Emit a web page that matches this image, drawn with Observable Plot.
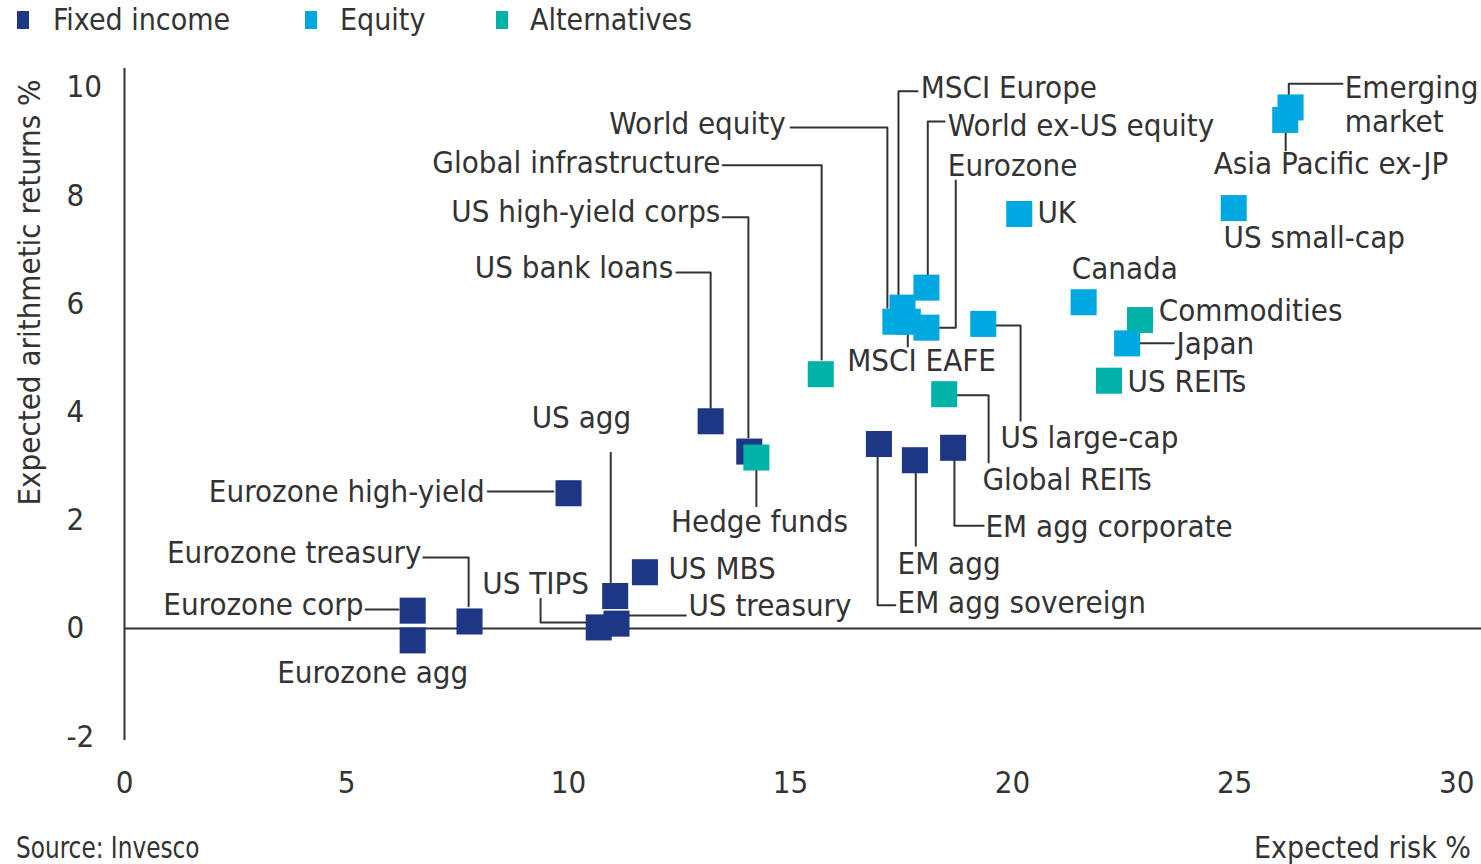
<!DOCTYPE html>
<html>
<head>
<meta charset="utf-8">
<script src="https://cdn.jsdelivr.net/npm/d3@7"></script>
<script src="https://cdn.jsdelivr.net/npm/@observablehq/plot@0.6"></script>
<style>
  body { margin: 0; background: #fff; }
  #wrap { position: relative; width: 1481px; height: 864px; overflow: hidden; background: #fff;
          font-family: "DejaVu Sans Condensed", "DejaVu Sans", sans-serif; color: #333; }
  #legend { position: relative; height: 40px; }
  .lg { position: absolute; top: 0; height: 40px; line-height: 40px; font-size: 30px; white-space: nowrap; }
  .sw { position: absolute; top: 11px; width: 12px; height: 18px; }
  #caption { position: relative; height: 52px; font-size: 30px; }
  #caption span { position: absolute; top: 18px; line-height: 36px; white-space: nowrap; }
  #src { transform: scaleX(0.86); transform-origin: left center; }
</style>
</head>
<body>
<div id="wrap">
  <div id="legend"></div>
  <div id="chart"></div>
  <div id="caption"><span id="src" style="left:16px"></span><span id="xlab" style="right:10px"></span></div>
</div>
<script>
// ---- data ----
const groupNames = ["Fixed income", "Equity", "Alternatives"];
const groupColors = ["#1d3784", "#00a8e1", "#00b2a8"];

const assetNames = [
  "Eurozone corp", "Eurozone agg", "Eurozone treasury", "US TIPS", "US treasury", "US agg", "US MBS",
  "Eurozone high-yield", "US bank loans", "US high-yield corps", "EM agg sovereign", "EM agg", "EM agg corporate",
  "Hedge funds", "Global infrastructure", "Global REITs", "US REITs", "Commodities",
  "World ex-US equity", "MSCI Europe", "World equity", "MSCI EAFE", "Eurozone", "US large-cap",
  "UK", "Canada", "Japan", "US small-cap", "Asia Pacific ex-JP", "Emerging market"
];
const assetGroups = [
  "Fixed income", "Fixed income", "Fixed income", "Fixed income", "Fixed income", "Fixed income", "Fixed income",
  "Fixed income", "Fixed income", "Fixed income", "Fixed income", "Fixed income", "Fixed income",
  "Alternatives", "Alternatives", "Alternatives", "Alternatives", "Alternatives",
  "Equity", "Equity", "Equity", "Equity", "Equity", "Equity",
  "Equity", "Equity", "Equity", "Equity", "Equity", "Equity"
];
const expectedRisk = [
  6.49, 6.49, 7.77, 10.68, 11.08, 11.05, 11.72,
  10.0, 13.2, 14.07, 16.99, 17.8, 18.66,
  14.23, 15.68, 18.46, 22.17, 22.87,
  18.06, 17.52, 17.36, 17.64, 18.06, 19.34,
  20.15, 21.6, 22.58, 24.98, 26.14, 26.26
];
const expectedReturn = [
  0.33, -0.22, 0.13, 0.02, 0.09, 0.60, 1.04,
  2.50, 3.83, 3.27, 3.41, 3.11, 3.34,
  3.16, 4.70, 4.33, 4.58, 5.70,
  6.30, 5.93, 5.67, 5.67, 5.56, 5.63,
  7.66, 6.03, 5.27, 7.77, 9.40, 9.63
];

const xTicks = [0, 5, 10, 15, 20, 25, 30];
const yTicks = [-2, 0, 2, 4, 6, 8, 10];
const yTitle = "Expected arithmetic returns %";

// ---- annotation layout (in chart units: risk %, return %) ----
const yTitlePos = [-2.12, 6.21];
const labelsEnd = [
  ["World equity", 14.89, 9.32], ["Global infrastructure", 13.42, 8.60], ["US high-yield corps", 13.42, 7.69],
  ["US bank loans", 12.36, 6.67], ["Eurozone high-yield", 8.11, 2.53], ["Eurozone treasury", 6.69, 1.39],
  ["Eurozone corp", 5.38, 0.43]
];
const labelsMiddle = [
  ["US agg", 10.29, 3.88], ["Eurozone agg", 5.59, -0.83], ["US TIPS", 9.26, 0.83],
  ["Hedge funds", 14.30, 1.96], ["MSCI EAFE", 17.95, 4.95]
];
const labelsStart = [
  ["MSCI Europe", 17.93, 10.0], ["World ex-US equity", 18.54, 9.30], ["Eurozone", 18.54, 8.56],
  ["US treasury", 12.70, 0.43], ["US MBS", 12.25, 1.11], ["UK", 20.56, 7.69], ["Canada", 21.33, 6.67],
  ["Commodities", 23.29, 5.88], ["Japan", 23.69, 5.27], ["US REITs", 22.59, 4.58],
  ["US small-cap", 24.75, 7.23], ["Asia Pacific ex-JP", 24.53, 8.61], ["Emerging\nmarket", 27.48, 9.70],
  ["US large-cap", 19.73, 3.53], ["Global REITs", 19.32, 2.77], ["EM agg corporate", 19.39, 1.90],
  ["EM agg", 17.41, 1.20], ["EM agg sovereign", 17.41, 0.48]
];
const leaderLines = [
  ["World equity", [[15.0, 9.26], [17.18, 9.26], [17.18, 5.93]]],
  ["MSCI Europe", [[17.86, 9.93], [17.43, 9.93], [17.43, 6.16]]],
  ["World ex-US equity", [[18.47, 9.37], [18.09, 9.37], [18.09, 6.54]]],
  ["Eurozone", [[18.72, 8.28], [18.72, 5.56], [18.33, 5.56]]],
  ["Global infrastructure", [[13.47, 8.56], [15.70, 8.56], [15.70, 4.97]]],
  ["US high-yield corps", [[13.47, 7.60], [14.05, 7.60], [14.05, 3.53]]],
  ["US bank loans", [[12.43, 6.58], [13.2, 6.58], [13.2, 4.08]]],
  ["US agg", [[10.95, 3.25], [10.95, 0.85]]],
  ["Eurozone high-yield", [[8.18, 2.53], [9.66, 2.53]]],
  ["Eurozone treasury", [[6.73, 1.31], [7.75, 1.31], [7.75, 0.41]]],
  ["Eurozone corp", [[5.43, 0.35], [6.17, 0.35]]],
  ["US TIPS", [[9.37, 0.55], [9.37, 0.11], [10.41, 0.11]]],
  ["US treasury", [[11.35, 0.24], [12.64, 0.24]]],
  ["Hedge funds", [[14.23, 2.92], [14.23, 2.26]]],
  ["MSCI EAFE", [[17.64, 5.43], [17.64, 5.21]]],
  ["Japan", [[22.88, 5.27], [23.63, 5.27]]],
  ["Asia Pacific ex-JP", [[26.15, 9.17], [26.15, 8.84]]],
  ["Emerging market", [[27.43, 10.07], [26.22, 10.07], [26.22, 9.87]]],
  ["US large-cap", [[19.62, 5.60], [20.18, 5.60], [20.18, 3.84]]],
  ["Global REITs", [[18.76, 4.31], [19.46, 4.31], [19.46, 3.07]]],
  ["EM agg corporate", [[18.69, 3.11], [18.69, 1.90], [19.35, 1.90]]],
  ["EM agg", [[17.82, 2.88], [17.82, 1.53]]],
  ["EM agg sovereign", [[16.96, 3.18], [16.96, 0.43], [17.36, 0.43]]]
];

// ---- build tables ----
const assets = assetNames.map((name, i) => ({name, group: assetGroups[i], risk: expectedRisk[i], ret: expectedReturn[i]}));
const toLabel = ([text, x, y]) => ({text, x, y});
const leaderPoints = leaderLines.flatMap(([id, pts]) => pts.map(([x, y]) => ({id, x, y})));

const FONT = '"DejaVu Sans Condensed", "DejaVu Sans", sans-serif';
const INK = "#333";

// legend
const legendPos = [[17, 53], [305, 340], [496, 530]];
const legend = document.getElementById("legend");
groupNames.forEach((g, i) => {
  const sw = document.createElement("div");
  sw.className = "sw"; sw.style.left = legendPos[i][0] + "px"; sw.style.background = groupColors[i];
  const t = document.createElement("div");
  t.className = "lg"; t.style.left = legendPos[i][1] + "px"; t.textContent = g;
  legend.append(sw, t);
});
document.getElementById("src").textContent = "Source: Invesco";
document.getElementById("xlab").textContent = "Expected risk %";

const chart = Plot.plot({
  width: 1481,
  height: 772,
  marginLeft: 124,
  marginRight: 0,
  marginTop: 28,
  marginBottom: 72,
  style: {fontFamily: FONT, fontSize: "31px", color: INK, background: "#fff", overflow: "visible"},
  x: {domain: [0, 30.56], ticks: xTicks, tickSize: 0, tickPadding: 30, tickFormat: d => String(d), label: null},
  y: {domain: [-2.07, 10.35], axis: null},
  color: {domain: groupNames, range: groupColors},
  marks: [
    Plot.ruleY([0], {stroke: INK, strokeWidth: 2}),
    Plot.ruleX([0], {stroke: INK, strokeWidth: 2}),
    Plot.text(yTicks, {y: d => d, frameAnchor: "left", text: d => String(d), textAnchor: "start", dx: -58, fill: INK}),
    Plot.text([yTitle], {x: yTitlePos[0], y: yTitlePos[1], text: d => d, rotate: -90, fill: INK}),
    Plot.line(leaderPoints, {x: "x", y: "y", z: "id", stroke: INK, strokeWidth: 2, curve: "linear"}),
    Plot.dot(assets, {x: "risk", y: "ret", fill: "group", symbol: "square", r: 14.7, stroke: null}),
    Plot.text(labelsEnd.map(toLabel), {x: "x", y: "y", text: "text", textAnchor: "end", fill: INK}),
    Plot.text(labelsMiddle.map(toLabel), {x: "x", y: "y", text: "text", textAnchor: "middle", fill: INK}),
    Plot.text(labelsStart.map(toLabel), {x: "x", y: "y", text: "text", textAnchor: "start", lineHeight: 1.1, fill: INK})
  ]
});
document.getElementById("chart").append(chart);
</script>
</body>
</html>
